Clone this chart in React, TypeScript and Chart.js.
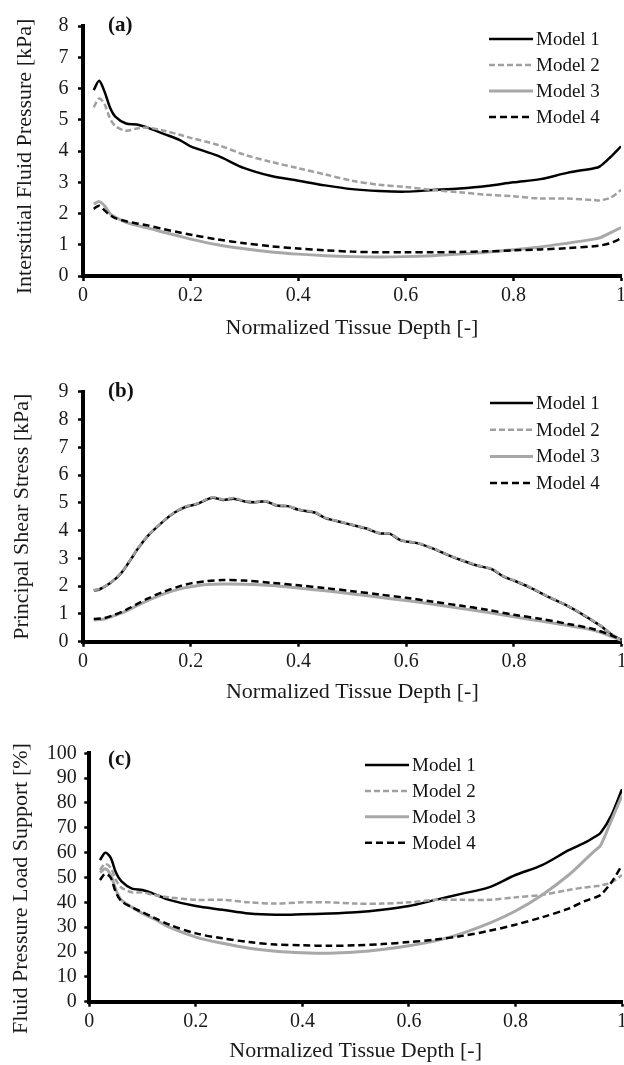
import React, { useEffect, useRef } from "react";
import { Chart, registerables } from "chart.js";

Chart.register(...registerables);

const FONT = "'Liberation Serif', 'Times New Roman', serif";

// ---------- Panel (a): Interstitial Fluid Pressure [kPa] ----------
const depthA = [0.02, 0.03, 0.04, 0.05, 0.06, 0.08, 0.1, 0.12, 0.15, 0.18, 0.2, 0.25, 0.3, 0.35, 0.4, 0.45, 0.5, 0.55, 0.6, 0.65, 0.7, 0.75, 0.8, 0.85, 0.9, 0.95, 0.96, 0.98, 1.0];
const pressureModel1 = [5.95, 6.25, 5.9, 5.4, 5.1, 4.88, 4.85, 4.75, 4.55, 4.35, 4.15, 3.85, 3.45, 3.2, 3.05, 2.9, 2.78, 2.72, 2.7, 2.75, 2.8, 2.88, 3.0, 3.1, 3.3, 3.45, 3.5, 3.8, 4.15];
const pressureModel2 = [5.4, 5.68, 5.5, 5.05, 4.8, 4.65, 4.72, 4.75, 4.65, 4.52, 4.42, 4.2, 3.88, 3.65, 3.45, 3.25, 3.05, 2.92, 2.85, 2.75, 2.68, 2.6, 2.55, 2.48, 2.48, 2.43, 2.42, 2.5, 2.75];
const pressureModel3 = [2.3, 2.38, 2.25, 2.0, 1.88, 1.72, 1.62, 1.54, 1.4, 1.27, 1.18, 1.0, 0.87, 0.77, 0.7, 0.65, 0.62, 0.61, 0.62, 0.65, 0.7, 0.76, 0.84, 0.93, 1.05, 1.18, 1.22, 1.38, 1.55];
const pressureModel4 = [2.15, 2.25, 2.1, 1.95, 1.85, 1.75, 1.68, 1.62, 1.5, 1.39, 1.32, 1.17, 1.05, 0.95, 0.88, 0.82, 0.78, 0.76, 0.76, 0.76, 0.77, 0.79, 0.82, 0.85, 0.89, 0.95, 0.97, 1.05, 1.2];

// ---------- Panel (b): Principal Shear Stress [kPa] ----------
const depthB12 = [0.02, 0.03, 0.05, 0.07, 0.09, 0.1, 0.12, 0.15, 0.17, 0.19, 0.21, 0.24, 0.26, 0.28, 0.3, 0.32, 0.34, 0.36, 0.38, 0.4, 0.43, 0.45, 0.48, 0.5, 0.53, 0.55, 0.57, 0.59, 0.62, 0.65, 0.68, 0.7, 0.73, 0.76, 0.78, 0.8, 0.83, 0.86, 0.9, 0.93, 0.96, 0.98, 1.0];
const shearModel1 = [1.85, 1.88, 2.1, 2.45, 3.0, 3.3, 3.8, 4.35, 4.65, 4.85, 4.95, 5.18, 5.1, 5.15, 5.05, 5.02, 5.05, 4.9, 4.88, 4.75, 4.65, 4.45, 4.3, 4.2, 4.05, 3.9, 3.88, 3.65, 3.55, 3.35, 3.1, 2.95, 2.75, 2.6, 2.35, 2.2, 1.95, 1.65, 1.28, 0.95, 0.58, 0.28, 0.05];
const shearModel2 = [1.86, 1.89, 2.11, 2.46, 3.01, 3.31, 3.81, 4.36, 4.66, 4.86, 4.96, 5.2, 5.12, 5.17, 5.06, 5.03, 5.06, 4.91, 4.89, 4.76, 4.66, 4.46, 4.31, 4.21, 4.06, 3.91, 3.89, 3.66, 3.56, 3.36, 3.11, 2.96, 2.76, 2.61, 2.36, 2.21, 1.96, 1.66, 1.29, 0.96, 0.59, 0.29, 0.06];
const depthB34 = [0.02, 0.04, 0.06, 0.08, 0.1, 0.12, 0.15, 0.18, 0.2, 0.23, 0.26, 0.3, 0.35, 0.4, 0.45, 0.5, 0.55, 0.6, 0.65, 0.7, 0.75, 0.8, 0.85, 0.9, 0.95, 1.0];
const shearModel3 = [0.78, 0.82, 0.95, 1.1, 1.3, 1.48, 1.72, 1.9, 1.98, 2.06, 2.08, 2.07, 2.02, 1.93, 1.83, 1.72, 1.6, 1.48, 1.35, 1.2, 1.06, 0.9, 0.74, 0.58, 0.4, 0.05];
const shearModel4 = [0.82, 0.85, 0.98, 1.15, 1.35, 1.55, 1.8, 2.0, 2.1, 2.18, 2.22, 2.2, 2.12, 2.03, 1.93, 1.82, 1.7, 1.58, 1.44, 1.3, 1.15, 0.97, 0.82, 0.64, 0.44, 0.08];

// ---------- Panel (c): Fluid Pressure Load Support [%] ----------
const depthC = [0.02, 0.03, 0.04, 0.05, 0.06, 0.08, 0.1, 0.12, 0.15, 0.2, 0.25, 0.3, 0.35, 0.4, 0.45, 0.5, 0.55, 0.6, 0.65, 0.7, 0.75, 0.8, 0.85, 0.9, 0.93, 0.95, 0.96, 0.98, 1.0];
const supportModel1 = [57, 60, 58, 52, 48.5, 45.5, 45, 43.5, 41, 38.5, 37, 35.5, 35, 35.2, 35.5, 36, 37, 38.5, 41, 43.5, 46, 51, 55, 61, 64, 66.5, 68, 75, 85.5];
const supportModel2 = [53, 55.5, 54, 49, 46, 44, 44, 43, 42, 41, 41, 40, 39.5, 40, 40, 39.5, 39.5, 40, 41, 41, 41, 42, 43, 45, 46, 46.5, 46.8, 48, 51];
const supportModel3 = [52, 53.5, 51, 45, 41, 38, 35.5, 33.5, 30, 26, 23.5, 21.5, 20.3, 19.7, 19.5, 20, 21, 22.5, 24.5, 27.5, 31.5, 36.5, 43, 51, 57, 61, 63, 73, 83];
const supportModel4 = [49, 51.5, 50, 44, 40.5, 38, 36, 34, 31, 27.5, 25.5, 24, 23, 22.7, 22.5, 22.7, 23.2, 24, 25, 26.5, 28.5, 31, 34, 37.5, 40.5, 42, 43, 48, 55];

const modelLabels = ["Model 1", "Model 2", "Model 3", "Model 4"];
const xTitle = "Normalized Tissue Depth [-]";
const panelLetters = ["(a)", "(b)", "(c)"];
const yTitles = [
  "Interstitial Fluid Pressure [kPa]  ",
  "Principal Shear Stress [kPa]",
  "Fluid Pressure Load Support [%]    ",
];
const yMaxes = [8, 9, 100];
const yStepSizes = [1, 1, 10];

// line styles for the four models
const lineStyles = [
  { color: "#000000", dash: [] as number[], width: 2.5, order: 4 },
  { color: "#a0a0a0", dash: [6, 3], width: 2.5, order: 3 },
  { color: "#a8a8a8", dash: [] as number[], width: 3, order: 2 },
  { color: "#000000", dash: [7, 4], width: 2.5, order: 1 },
];

const pts = (xs: number[], ys: number[]) => xs.map((x, i) => ({ x, y: ys[i] }));

const panelSeries = [
  [pts(depthA, pressureModel1), pts(depthA, pressureModel2), pts(depthA, pressureModel3), pts(depthA, pressureModel4)],
  [pts(depthB12, shearModel1), pts(depthB12, shearModel2), pts(depthB34, shearModel3), pts(depthB34, shearModel4)],
  [pts(depthC, supportModel1), pts(depthC, supportModel2), pts(depthC, supportModel3), pts(depthC, supportModel4)],
];

// layout of each panel (canvas slices of the 624x1065 page)
const layouts = [
  { top: 0, height: 344, areaTop: 26, yWidth: 83, xHeight: 68, right: 3, yPadTitle: 11.8, xPadTitle: 2.8, tickPad: 9.5, labelY: 26, legX0: 489, legX1: 533, legY: 39, legDy: 26 },
  { top: 344, height: 368, areaTop: 47.7, yWidth: 83, xHeight: 70.3, right: 2.3, yPadTitle: 9.3, xPadTitle: 6.5, tickPad: 9.5, labelY: 47.7, legX0: 490, legX1: 533, legY: 59, legDy: 26.7 },
  { top: 712, height: 353, areaTop: 41.3, yWidth: 89.3, xHeight: 63.3, right: 2, yPadTitle: 7.8, xPadTitle: 0.2, tickPad: 7.5, labelY: 48, legX0: 365, legX1: 409, legY: 53, legDy: 25.9 },
];

const panelDecor = {
  id: "panelDecor",
  afterDraw(chart: any, _args: any, opts: any) {
    const ctx = chart.ctx;
    ctx.save();
    ctx.fillStyle = "#111";
    ctx.textAlign = "left";
    ctx.textBaseline = "middle";
    ctx.font = `bold 21px ${FONT}`;
    ctx.fillText(opts.letter, 108, opts.labelY);
    chart.data.datasets.forEach((ds: any, i: number) => {
      const y = opts.legY + i * opts.legDy;
      ctx.beginPath();
      ctx.setLineDash(ds.borderDash || []);
      ctx.strokeStyle = ds.borderColor;
      ctx.lineWidth = ds.borderWidth;
      ctx.moveTo(opts.legX0, y);
      ctx.lineTo(opts.legX1, y);
      ctx.stroke();
      ctx.setLineDash([]);
      ctx.fillStyle = "#111";
      ctx.font = `19px ${FONT}`;
      ctx.fillText(ds.label, opts.legX1 + 3, y + 1);
    });
    ctx.restore();
  },
};

const fmtDepth = (v: any) => String(Math.round(Number(v) * 10) / 10);

function Panel({ index }: { index: number }) {
  const ref = useRef<HTMLCanvasElement | null>(null);
  const L = layouts[index];

  useEffect(() => {
    if (!ref.current) return;
    const datasets = panelSeries[index].map((data, i) => ({
      label: modelLabels[i],
      data,
      borderColor: lineStyles[i].color,
      borderDash: lineStyles[i].dash,
      borderWidth: lineStyles[i].width,
      order: lineStyles[i].order,
      pointRadius: 0,
      fill: false,
      tension: 0.3,
    }));
    const chart = new Chart(ref.current, {
      type: "line",
      data: { datasets },
      plugins: [panelDecor],
      options: {
        responsive: false,
        animation: false,
        devicePixelRatio: 1,
        layout: { padding: { top: L.areaTop, right: L.right, left: 0, bottom: 0 } },
        plugins: {
          legend: { display: false },
          tooltip: { enabled: false },
          panelDecor: {
            letter: panelLetters[index],
            labelY: L.labelY,
            legX0: L.legX0,
            legX1: L.legX1,
            legY: L.legY,
            legDy: L.legDy,
          },
        } as any,
        scales: {
          x: {
            type: "linear",
            min: 0,
            max: 1,
            ticks: {
              stepSize: 0.2,
              autoSkip: false,
              maxRotation: 0,
              padding: 3,
              color: "#1a1a1a",
              font: { family: FONT, size: 20 },
              callback: fmtDepth,
            },
            grid: { display: true, drawOnChartArea: false, drawTicks: true, tickLength: 5, tickWidth: 2.5, tickColor: "#000" },
            border: { display: true, color: "#000", width: 4 },
            title: {
              display: true,
              text: xTitle,
              color: "#1a1a1a",
              font: { family: FONT, size: 22 },
              padding: { top: 0, bottom: L.xPadTitle },
            },
            afterFit: (s: any) => {
              s.height = L.xHeight;
              s.paddingLeft = 0;
              s.paddingRight = 0;
            },
          },
          y: {
            type: "linear",
            min: 0,
            max: yMaxes[index],
            ticks: {
              stepSize: yStepSizes[index],
              autoSkip: false,
              padding: L.tickPad,
              color: "#1a1a1a",
              font: { family: FONT, size: 20 },
            },
            grid: { display: true, drawOnChartArea: false, drawTicks: true, tickLength: 5, tickWidth: 2.5, tickColor: "#000" },
            border: { display: true, color: "#000", width: 4 },
            title: {
              display: true,
              text: yTitles[index],
              color: "#1a1a1a",
              font: { family: FONT, size: 22 },
              padding: { top: L.yPadTitle, bottom: 0 },
            },
            afterFit: (s: any) => {
              s.width = L.yWidth;
              s.paddingTop = 0;
              s.paddingBottom = 0;
            },
          },
        },
      } as any,
    });
    return () => chart.destroy();
  }, [index]);

  return (
    <canvas
      ref={ref}
      width={624}
      height={L.height}
      style={{ position: "absolute", left: 0, top: L.top, width: 624, height: L.height, display: "block" }}
    />
  );
}

export default function App() {
  return (
    <div style={{ position: "absolute", left: 0, top: 0, width: 624, height: 1065, background: "#fff", overflow: "hidden" }}>
      <Panel index={0} />
      <Panel index={1} />
      <Panel index={2} />
    </div>
  );
}
